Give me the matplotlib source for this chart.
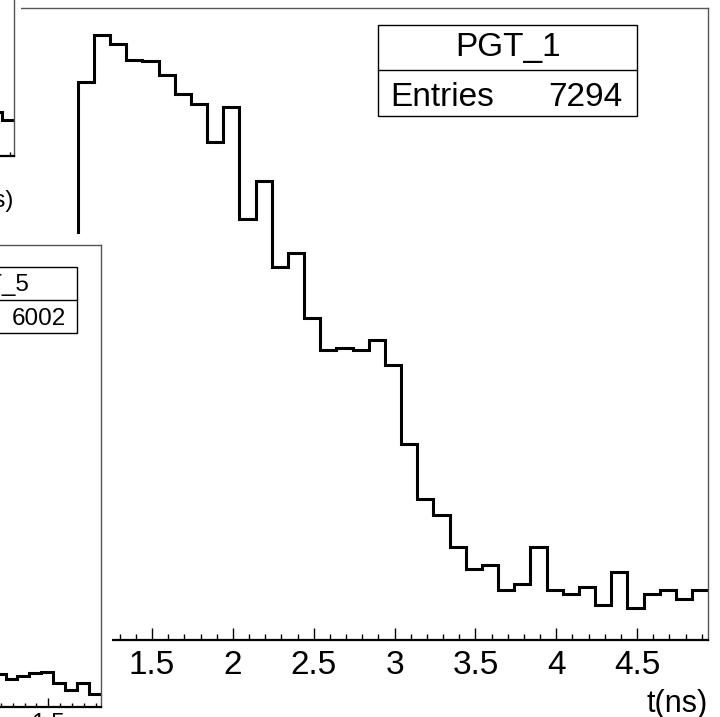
import matplotlib
matplotlib.use("Agg")
import matplotlib.pyplot as plt
import numpy as np
from matplotlib.patches import Rectangle
from matplotlib.lines import Line2D
from matplotlib.ticker import MultipleLocator, FuncFormatter

plt.rcParams['font.family'] = ['Liberation Sans', 'DejaVu Sans']

# ---------------- data ----------------
bin_width = 0.1

# main pad: PGT_1 (first bin is hidden under the neighbouring pad)
pgt1_name = "PGT_1"
pgt1_entries = 7294
pgt1_first_edge = 0.94
pgt1_counts = [60, 379, 411, 405, 394, 393, 384, 371, 364, 338, 362, 286, 312,
               253, 263, 219, 197, 198, 197, 204, 187, 133, 96, 85, 63, 48,
               51, 34, 38, 63, 34, 31, 36, 24, 46, 22, 31, 34, 28, 34]

# lower-left pad: PGT_5 (only its right-hand end is visible)
pgt5_name = "PGT_5"
pgt5_entries = 6002
pgt5_first_edge = 1.04
pgt5_counts = [30, 25, 28, 31, 32, 22, 15, 22, 12]

# upper-left pad (only its bottom-right corner is visible)
top_first_edge = 1.74
top_counts = [40, 33]

x_label = "t(ns)"

# ---------------- layout helpers ----------------
W, H = 720, 717
fig = plt.figure(figsize=(W / 100, H / 100), dpi=100)


def rect_px(l, t, r, b):
    return [l / W, 1 - b / H, (r - l) / W, (b - t) / H]


def fx(px):
    return px / W


def fy(py):
    return 1 - py / H


fmt = FuncFormatter(lambda v, p: f"{v:g}")


def style(ax, fs, major_len, minor_len, pad):
    ax.set_facecolor('white')
    for s in ['top', 'right']:
        ax.spines[s].set_color('#555555')
        ax.spines[s].set_linewidth(1.0)
    ax.spines['left'].set_visible(False)
    ax.spines['bottom'].set_color('black')
    ax.spines['bottom'].set_linewidth(1.6)
    ax.xaxis.set_major_locator(MultipleLocator(0.5))
    ax.xaxis.set_minor_locator(MultipleLocator(0.1))
    ax.xaxis.set_major_formatter(fmt)
    ax.tick_params(axis='x', which='both', direction='in', top=False,
                   bottom=True, color='black', width=1.0)
    ax.tick_params(axis='x', which='major', length=major_len,
                   labelsize=fs, pad=pad)
    ax.tick_params(axis='x', which='minor', length=minor_len)
    ax.set_yticks([])


def edges_for(first, counts):
    return first + bin_width * np.arange(len(counts) + 1)


# ---------------- main pad ----------------
main_left_px, main_right_px = 15.0, 708.3
main_px_per_unit = 161.7
main_xmax = 4.94
main_xmin = main_xmax - (main_right_px - main_left_px) / main_px_per_unit

ax = fig.add_axes(rect_px(main_left_px, 7.6, main_right_px, 640), zorder=0)
ax.stairs(pgt1_counts, edges_for(pgt1_first_edge, pgt1_counts),
          baseline=None, color='black', linewidth=2.2)
ax.set_xlim(main_xmin, main_xmax)
ax.set_ylim(0, 1.045 * max(pgt1_counts))
style(ax, 24, 9.0, 4.5, 7.5)

fig.text(fx(707.7), fy(711.7), x_label, ha='right', va='baseline',
         fontsize=22, zorder=0.5)

# stats box PGT_1
bl, bt, br, bb, bd = 378.3, 25, 637.3, 116, 70
fig.add_artist(Rectangle((fx(bl), fy(bb)), (br - bl) / W, (bb - bt) / H,
                         transform=fig.transFigure, facecolor='white',
                         edgecolor='black', linewidth=1.0, zorder=0.6))
fig.add_artist(Line2D([fx(bl), fx(br)], [fy(bd), fy(bd)],
                      transform=fig.transFigure, color='black',
                      linewidth=1.0, zorder=0.7))
fig.text(fx((bl + br) / 2), fy(56), pgt1_name, ha='center', va='baseline',
         fontsize=24, zorder=0.8)
fig.text(fx(bl + 12), fy(106), "Entries", ha='left', va='baseline',
         fontsize=24, zorder=0.8)
fig.text(fx(br - 15), fy(106), f"{pgt1_entries}", ha='right', va='baseline',
         fontsize=24, zorder=0.8)

# ---------------- white backgrounds of neighbouring pads ----------------
fig.add_artist(Rectangle((fx(0), fy(717)), 111.5 / W, (717 - 234) / H,
                         transform=fig.transFigure, facecolor='white',
                         edgecolor='none', zorder=1))
fig.add_artist(Rectangle((fx(0), fy(234)), 21 / W, 234 / H,
                         transform=fig.transFigure, facecolor='white',
                         edgecolor='none', zorder=1))

# ---------------- lower-left pad (PGT_5) ----------------
px_per_unit = 119.0
ax5 = fig.add_axes(rect_px(0, 245, 100.7, 706.7), zorder=2)
ax5.stairs(pgt5_counts, edges_for(pgt5_first_edge, pgt5_counts),
           baseline=None, color='black', linewidth=2.2)
ax5.set_xlim(1.94 - 100.7 / px_per_unit, 1.94)
ax5.set_ylim(0, 420)
style(ax5, 17.5, 6.6, 3.2, 4.5)

sl, st, sr, sb, sd = -95, 266.7, 76.7, 333.3, 300
fig.add_artist(Rectangle((fx(sl), fy(sb)), (sr - sl) / W, (sb - st) / H,
                         transform=fig.transFigure, facecolor='white',
                         edgecolor='black', linewidth=1.0, zorder=3))
fig.add_artist(Line2D([fx(sl), fx(sr)], [fy(sd), fy(sd)],
                      transform=fig.transFigure, color='black',
                      linewidth=1.0, zorder=3.1))
fig.text(fx((sl + sr) / 2), fy(291.5), pgt5_name, ha='center', va='baseline',
         fontsize=17.5, zorder=3.2)
fig.text(fx(sl + 9), fy(325.4), "Entries", ha='left', va='baseline',
         fontsize=17.5, zorder=3.2)
fig.text(fx(sr - 11), fy(325.4), f"{pgt5_entries}", ha='right',
         va='baseline', fontsize=17.5, zorder=3.2)

# ---------------- upper-left pad ----------------
axt = fig.add_axes(rect_px(0, -306, 14.3, 156), zorder=2)
axt.stairs(top_counts, edges_for(top_first_edge, top_counts),
           baseline=None, color='black', linewidth=2.2)
axt.set_xlim(1.94 - 14.3 / px_per_unit, 1.94)
axt.set_ylim(0, 420)
style(axt, 17.5, 6.6, 3.2, 4.5)
fig.text(fx(14), fy(206.6), x_label, ha='right', va='baseline',
         fontsize=17.5, zorder=3)

fig.savefig("out.png", dpi=100, facecolor='white')
